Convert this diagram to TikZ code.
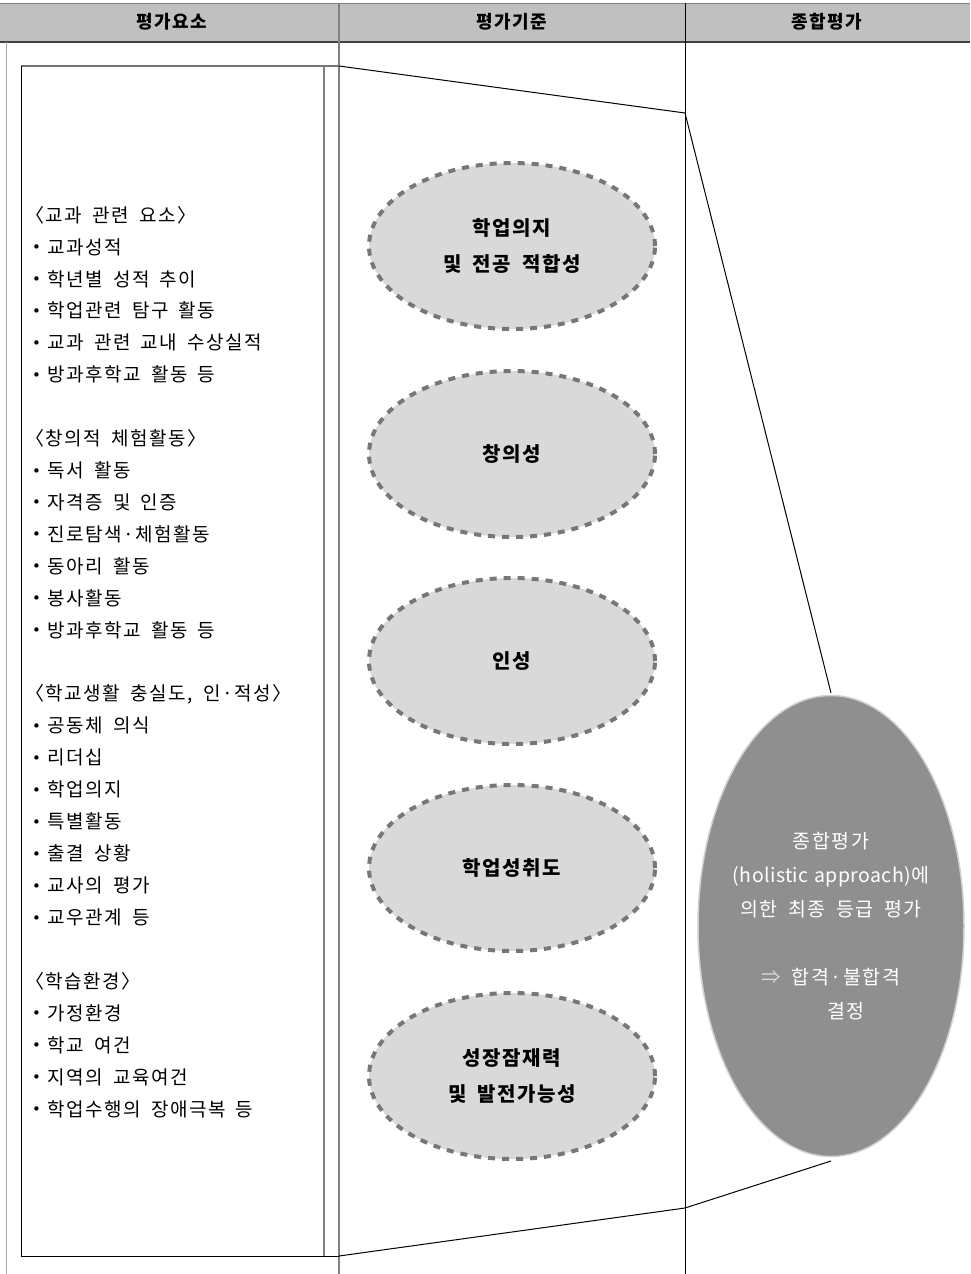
\documentclass[tikz,border=0pt]{standalone}
\usepackage{fontspec}
\setmainfont{Noto Sans CJK KR}[LetterSpace=8,WordSpace=1.8]
\newfontfamily\bulfont{DejaVu Sans}
\usetikzlibrary{shapes.geometric}
\definecolor{hdrgray}{HTML}{C0C0C0}
\definecolor{ellfill}{HTML}{D9D9D9}
\definecolor{elldash}{HTML}{777777}
\definecolor{bigfill}{HTML}{8F8F8F}
\definecolor{bigdraw}{HTML}{D0D0D0}
\newcommand{\mybul}{\makebox[15pt][l]{\raisebox{1.5pt}{\bulfont\fontsize{15}{15}\selectfont •}}}
\tikzset{
  hdrtext/.style={font=\bfseries\fontsize{18}{18}\selectfont, inner sep=0pt},
  itemtext/.style={font=\fontsize{19}{19}\selectfont, anchor=west, inner sep=0pt},
  critell/.style={ellipse, fill=ellfill, draw=elldash, line width=4pt, dash pattern=on 7pt off 7pt,
    minimum width=286pt, minimum height=166pt, align=center,
    font=\bfseries\fontsize{20}{36}\selectfont},
  bigell/.style={ellipse, fill=bigfill, draw=bigdraw, line width=1.5pt, inner sep=0pt,
    minimum width=266pt, minimum height=461pt},
  bigtext/.style={align=center, text=white, inner sep=0pt, font=\fontsize{19.5}{34}\selectfont},
  link/.style={draw=black, line width=1pt}
}
\begin{document}
\begin{tikzpicture}[x=1pt,y=-1pt]
\useasboundingbox (0,0) rectangle (970,1274);
% header
\fill[hdrgray] (0,3) rectangle (970,42);
\draw[gray, line width=1pt] (0,3) -- (970,3);
\draw[black!75, line width=1.5pt] (0,42) -- (970,42);
\draw[black!35, line width=1pt] (6,42) -- (6,1274);
\draw[black!50, line width=2pt] (339,3) -- (339,1274);
\draw[black, line width=0.8pt] (685,3) -- (685,1274);
\node[hdrtext] (h1) at (172,22) {평가요소};
\node[hdrtext] (h2) at (512,22) {평가기준};
\node[hdrtext] (h3) at (827,22) {종합평가};
% inner box
\draw[black!55, line width=1.5pt] (21,66) -- (339,66);
\draw[black, line width=1pt] (21,66) -- (21,1256) -- (339,1256);
\draw[black!50, line width=1.5pt] (324,66) -- (324,1256);
% left items: bracketed headings
\foreach \i/\t in {
  0/{〈교과 관련 요소〉},
  7/{〈창의적 체험활동〉},
  15/{〈학교생활 충실도, 인·적성〉},
  24/{〈학습환경〉}}
  \node[itemtext] (L\i) at (25,215+31.93*\i) {\t};
% left items: bullets
\foreach \i/\t in {
  1/{교과성적},
  2/{학년별 성적 추이},
  3/{학업관련 탐구 활동},
  4/{교과 관련 교내 수상실적},
  5/{방과후학교 활동 등},
  8/{독서 활동},
  9/{자격증 및 인증},
  10/{진로탐색·체험활동},
  11/{동아리 활동},
  12/{봉사활동},
  13/{방과후학교 활동 등},
  16/{공동체 의식},
  17/{리더십},
  18/{학업의지},
  19/{특별활동},
  20/{출결 상황},
  21/{교사의 평가},
  22/{교우관계 등},
  25/{가정환경},
  26/{학교 여건},
  27/{지역의 교육여건},
  28/{학업수행의 장애극복 등}}
  \node[itemtext] (L\i) at (32,215+31.93*\i) {\mybul\t};
% criteria ellipses
\node[critell] (c1) at (512,246) {학업의지\\및 전공 적합성};
\node[critell] (c2) at (512,454) {창의성};
\node[critell] (c3) at (512,661) {인성};
\node[critell] (c4) at (512,868) {학업성취도};
\node[critell] (c5) at (512,1076) {성장잠재력\\및 발전가능성};
% final ellipse
\node[bigell] (R) at (831,926) {};
\node[bigtext] (Rt) at (R.center) {종합평가\\{\addfontfeature{LetterSpace=2}(holistic\hspace{6pt}approach)}에\\의한 최종 등급 평가\\[34pt]{\color{white!85!black}⇒} 합격·불합격\\\hspace*{30pt}결정};
% connectors
\coordinate (tl) at (339,66);
\coordinate (tk) at (685,113);
\coordinate (bl) at (339,1256);
\coordinate (bk) at (685,1208);
\coordinate (rt) at (831,693);
\coordinate (rb) at (831,1161);
\draw[link] (tl) -- (tk) -- (rt);
\draw[link] (bl) -- (bk) -- (rb);
\end{tikzpicture}
\end{document}
